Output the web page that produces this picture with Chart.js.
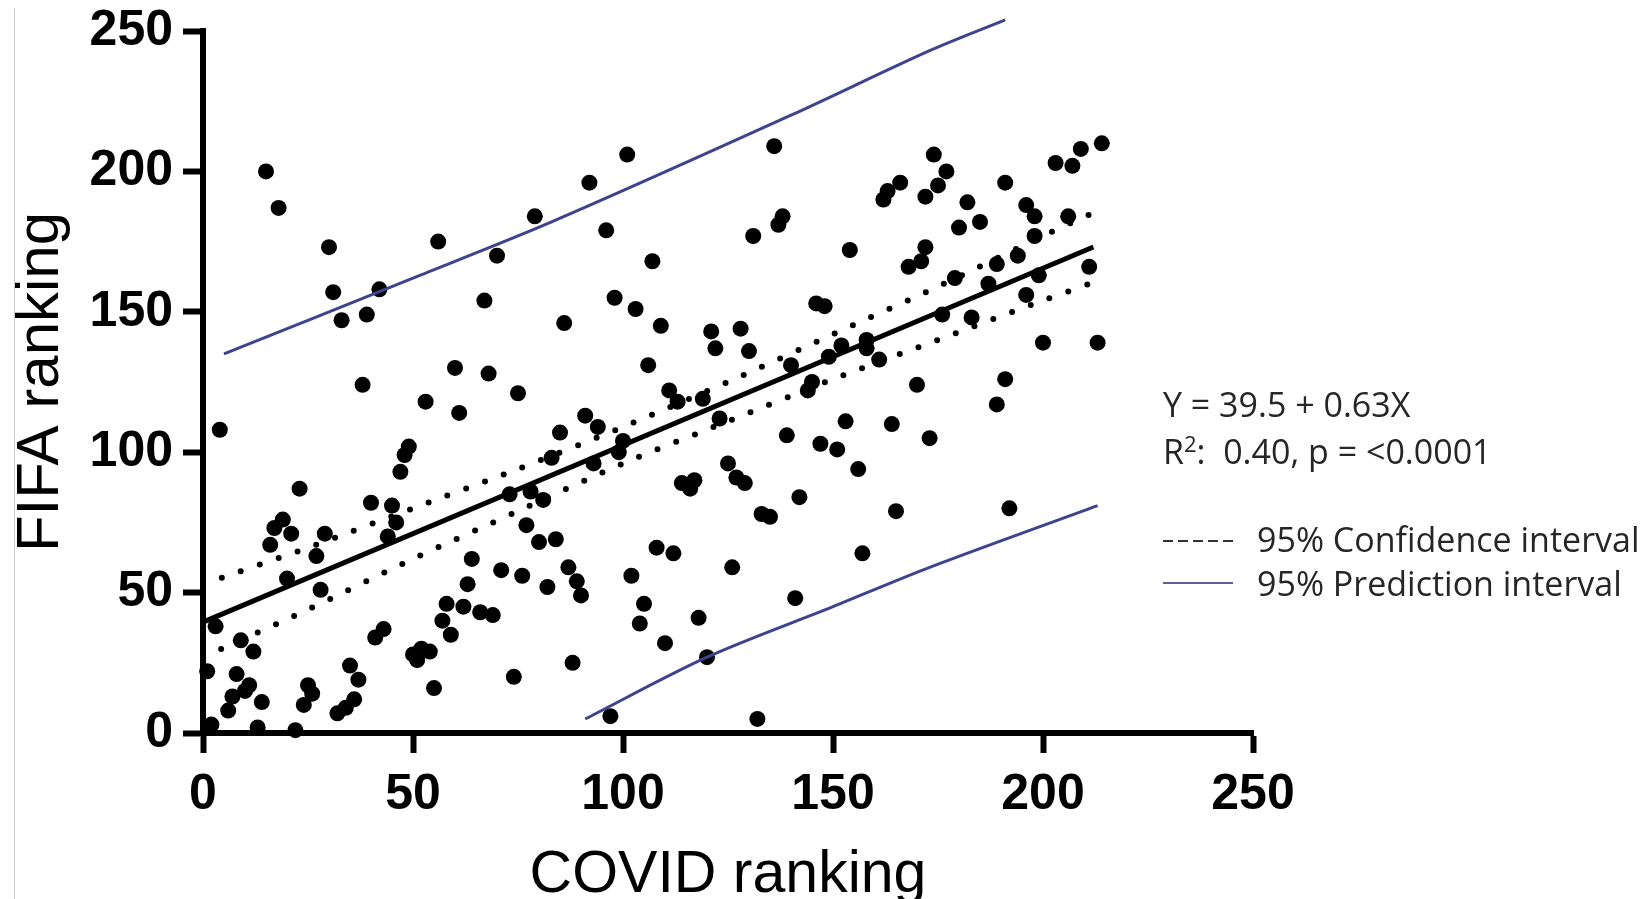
<!DOCTYPE html>
<html lang="en">
<head>
<meta charset="UTF-8">
<title>FIFA ranking vs COVID ranking</title>
<script src="https://cdn.jsdelivr.net/npm/chart.js@4"></script>
<style>
  body { margin: 0; background: #fff; }
  .wrap { position: relative; width: 1644px; height: 899px; overflow: hidden; }
  .edge { position: absolute; left: 14px; top: 8px; width: 1px; height: 891px; background: #cfcfcf; }
  .note { position: absolute; left: 1163px; font-family: "Open Sans", sans-serif; font-size: 34px; line-height: 34px; color: #262626; white-space: nowrap; }
  .note sup { font-size: 22px; line-height: 0; }
  .key { position: absolute; left: 1163px; width: 70px; height: 2px; }
</style>
</head>
<body>
<div class="wrap">
  <canvas id="grafica" width="1644" height="899"></canvas>
  <div class="edge"></div>
  <div class="note" style="top:387px">Y = 39.5 + 0.63X</div>
  <div class="note" style="top:434px">R<sup>2</sup>:&nbsp; 0.40, p = &lt;0.0001</div>
  <div class="key" style="top:540px; background:repeating-linear-gradient(to right, #333 0 10px, transparent 10px 15px)"></div>
  <div class="note" style="top:522px; left:1257px">95% Confidence interval</div>
  <div class="key" style="top:582px; background:#5a5ea8"></div>
  <div class="note" style="top:566px; left:1257px">95% Prediction interval</div>
</div>

<script>
// puntos: ranking COVID (x) y ranking FIFA (y) por pais
const covidRank = [
  15, 18, 30, 31, 33, 39, 42, 56, 70, 67, 79, 86, 60, 68, 38, 75, 53, 61, 4, 85,
  49, 48, 47, 83, 23, 40, 45, 46, 44, 19, 17, 21, 29, 16, 27, 20, 28, 73, 78, 81,
  77, 80, 84, 64, 71, 76, 82, 63, 58, 62, 66, 69, 57, 59, 43, 41, 52, 50, 54, 51,
  74, 55, 3, 9, 12, 1, 8, 11, 10, 7, 6, 14, 2, 13, 22, 35, 37, 25, 26, 24,
  36, 34, 32, 101, 92, 136, 96, 107, 162, 163, 166, 172, 174, 131, 137, 138, 154, 172, 171, 168,
  98, 103, 109, 121, 122, 128, 130, 106, 146, 148, 140, 152, 158, 158, 149, 161, 111, 113, 119, 123,
  91, 94, 100, 99, 93, 145, 144, 170, 153, 164, 173, 139, 147, 151, 156, 125, 127, 129, 114, 117,
  116, 142, 133, 135, 165, 87, 89, 90, 108, 112, 126, 157, 102, 105, 104, 118, 110, 141, 120, 88,
  97, 132, 214, 209, 203, 207, 177, 175, 191, 182, 185, 180, 196, 198, 206, 198, 194, 189, 179, 211,
  187, 196, 199, 176, 183, 200, 213, 191, 189, 192
];
const fifaRank = [
  200, 187, 173, 157, 147, 149, 158, 175, 170, 154, 184, 146, 130, 128, 124, 121, 118, 114, 108, 107,
  102, 99, 93, 98, 87, 82, 81, 75, 70, 76, 73, 71, 71, 67, 63, 55, 51, 85, 86, 83,
  74, 68, 69, 62, 58, 56, 52, 53, 46, 45, 43, 42, 40, 35, 37, 34, 30, 28, 29, 26,
  20, 16, 38, 33, 29, 22, 21, 17, 15, 13, 8, 11, 3, 2, 1, 24, 19, 17, 14, 10,
  12, 9, 7, 206, 196, 209, 179, 168, 190, 193, 196, 191, 206, 177, 181, 184, 172, 173, 168, 166,
  155, 151, 145, 143, 137, 144, 136, 131, 153, 152, 131, 138, 140, 137, 134, 133, 122, 118, 119, 112,
  113, 109, 104, 100, 96, 125, 122, 124, 111, 110, 105, 106, 103, 101, 94, 96, 91, 89, 89, 90,
  87, 84, 78, 77, 79, 59, 54, 49, 66, 64, 59, 64, 56, 46, 39, 41, 32, 48, 27, 25,
  6, 5, 210, 208, 203, 202, 200, 195, 196, 189, 182, 180, 188, 184, 184, 177, 170, 167, 162, 166,
  160, 156, 163, 149, 148, 139, 139, 126, 117, 80
];

// recta de regresion Y = 39.5 + 0.63X
const fitX = [0, 212];
const fitY = [39.5, 173.1];

// intervalo de confianza 95% (lineas punteadas)
const ciX = [0, 25, 50, 75, 100, 125, 150, 175, 200, 213];
const ciUpper = [53, 66, 80, 94, 109, 125, 142, 159, 177, 186];
const ciLower = [27, 44, 62, 79, 96, 111, 126, 140, 154, 161];

// intervalo de prediccion 95% (lineas azules)
const piUpperX = [5, 50, 83, 140, 173, 191];
const piUpperY = [135, 162, 182, 220, 243, 254];
const piLowerX = [91, 120, 150, 173, 213];
const piLowerY = [5, 27, 45, 59, 81];

const xTicks = [0, 50, 100, 150, 200, 250];
const yTicks = [0, 50, 100, 150, 200, 250];

function pares(xs, ys) {
  return xs.map((x, i) => ({ x: x, y: ys[i] }));
}

const fuenteEje = '"Liberation Sans", Arial, Helvetica, sans-serif';
const negro = '#000';

const ctx = document.getElementById('grafica').getContext('2d');
new Chart(ctx, {
  type: 'scatter',
  data: {
    datasets: [
      {
        label: 'Regression',
        data: pares(fitX, fitY),
        showLine: true, borderColor: negro, borderWidth: 5,
        pointRadius: 0, clip: false
      },
      {
        label: 'CI upper',
        data: pares(ciX, ciUpper),
        showLine: true, borderColor: negro, borderWidth: 6,
        borderDash: [0, 20], borderCapStyle: 'round', tension: 0.3,
        pointRadius: 0, clip: false
      },
      {
        label: 'CI lower',
        data: pares(ciX, ciLower),
        showLine: true, borderColor: negro, borderWidth: 6,
        borderDash: [0, 20], borderCapStyle: 'round', tension: 0.3,
        pointRadius: 0, clip: false
      },
      {
        label: 'PI upper',
        data: pares(piUpperX, piUpperY),
        showLine: true, borderColor: '#3f438e', borderWidth: 3, tension: 0.3,
        pointRadius: 0, clip: false
      },
      {
        label: 'PI lower',
        data: pares(piLowerX, piLowerY),
        showLine: true, borderColor: '#3f438e', borderWidth: 3, tension: 0.3,
        pointRadius: 0, clip: false
      },
      {
        label: 'Countries',
        data: pares(covidRank, fifaRank),
        backgroundColor: negro, borderWidth: 0,
        pointRadius: 8, clip: false
      }
    ]
  },
  options: {
    responsive: false,
    animation: false,
    events: [],
    layout: { padding: { top: 31, right: 391, bottom: 0, left: 0 } },
    plugins: {
      legend: { display: false },
      tooltip: { enabled: false }
    },
    scales: {
      x: {
        type: 'linear', min: 0, max: 250,
        afterBuildTicks: s => { s.ticks = xTicks.map(v => ({ value: v })); },
        afterFit: s => { s.height = 166; s.paddingLeft = 0; s.paddingRight = 0; },
        border: { display: true, color: negro, width: 6 },
        grid: { drawOnChartArea: false, drawTicks: true, tickLength: 20, tickWidth: 6, tickColor: negro },
        ticks: { padding: 12, color: negro, font: { family: fuenteEje, size: 50, weight: 'bold' } },
        title: {
          display: true, text: 'COVID ranking', color: negro,
          font: { family: fuenteEje, size: 59, lineHeight: 0.8 },
          padding: { top: 0, bottom: 0 }
        }
      },
      y: {
        type: 'linear', min: 0, max: 250,
        afterBuildTicks: s => { s.ticks = yTicks.map(v => ({ value: v })); },
        afterFit: s => { s.width = 203; s.paddingTop = 0; s.paddingBottom = 0; },
        border: { display: true, color: negro, width: 6 },
        grid: { drawOnChartArea: false, drawTicks: true, tickLength: 20, tickWidth: 6, tickColor: negro },
        ticks: { padding: 10, color: negro, font: { family: fuenteEje, size: 50, weight: 'bold' } },
        title: {
          display: true, text: 'FIFA ranking', color: negro,
          font: { family: fuenteEje, size: 60, lineHeight: 1.2 },
          padding: { top: 5, bottom: 0 }
        }
      }
    }
  }
});
</script>
</body>
</html>
